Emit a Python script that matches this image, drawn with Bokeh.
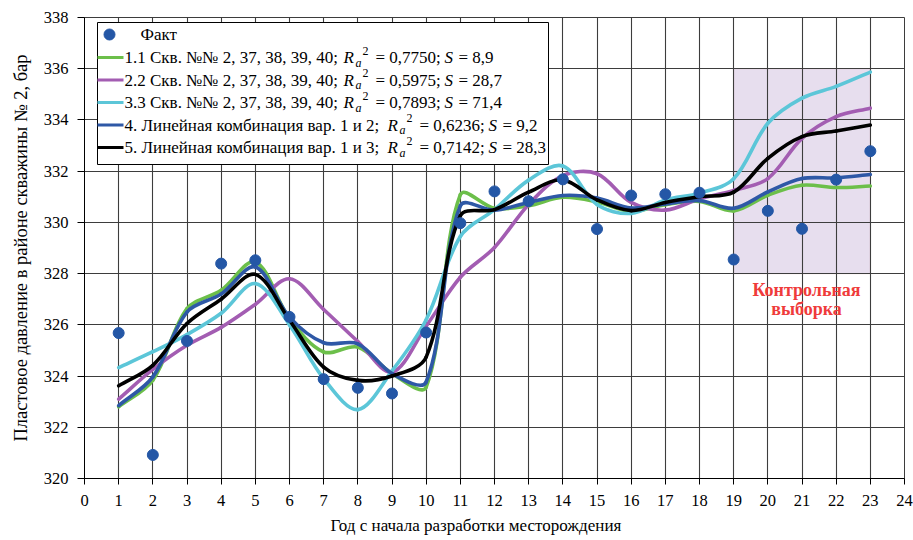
import numpy as np
from bokeh.plotting import figure
from bokeh.models import FixedTicker, Label, BoxAnnotation, ColumnDataSource, Title
from bokeh.embed import file_html
from bokeh.resources import INLINE

# ---- data -------------------------------------------------------------
years = list(range(1, 24))

fact = [325.68, 320.92, 325.37, 328.39, 328.52, 326.31, 323.88, 323.54, 323.32, 325.70,
        329.97, 331.21, 330.83, 331.68, 329.74, 331.05, 331.10, 331.16, 328.55, 330.45,
        329.75, 331.67, 332.78]

var_1 = [322.80, 323.84, 326.63, 327.35, 328.46, 326.24, 324.94, 325.13, 324.10, 323.57,
         331.08, 330.55, 330.65, 330.98, 330.80, 330.43, 330.69, 330.82, 330.45, 331.06,
         331.45, 331.36, 331.42]

var_2 = [323.10, 324.26, 325.20, 325.90, 326.80, 327.80, 326.60, 325.35, 324.15, 325.95,
         327.86, 329.02, 330.70, 331.83, 331.90, 330.78, 330.48, 330.92, 331.25, 331.71,
         333.28, 334.13, 334.46]

var_3 = [324.33, 324.95, 325.62, 326.45, 327.61, 326.00, 323.90, 322.69, 324.20, 326.20,
         329.45, 330.50, 331.65, 332.20, 330.70, 330.35, 330.88, 331.14, 331.70, 333.87,
         334.85, 335.31, 335.87]

var_4 = [322.85, 323.97, 326.50, 327.20, 328.26, 326.30, 325.30, 325.26, 324.10, 323.77,
         330.65, 330.48, 330.78, 331.05, 330.95, 330.56, 330.72, 330.85, 330.55, 331.19,
         331.71, 331.74, 331.87]

var_5 = [323.62, 324.42, 326.05, 327.00, 327.97, 326.18, 324.35, 323.83, 324.00, 324.74,
         330.26, 330.50, 331.18, 331.66, 330.88, 330.46, 330.78, 331.00, 331.18, 332.50,
         333.35, 333.57, 333.80]

legend_prefix = ["1.1 Скв. №№ 2, 37, 38, 39, 40;",
                 "2.2 Скв. №№ 2, 37, 38, 39, 40;",
                 "3.3 Скв. №№ 2, 37, 38, 39, 40;",
                 "4. Линейная комбинация вар. 1 и 2;",
                 "5. Линейная комбинация вар. 1 и 3;"]
r2_values = ["0,7750", "0,5975", "0,7893", "0,6236", "0,7142"]
s_values = ["8,9", "28,7", "71,4", "9,2", "28,3"]

control_years = (19, 23)
control_range = (328, 336)

x_ticks = list(range(0, 25))
y_ticks = list(range(320, 339, 2))

# ---- style --------------------------------------------------------------
FONT = "'Liberation Serif', 'Times New Roman', 'DejaVu Serif', serif"
line_colors = ["#6cbf4a", "#a35db2", "#5cc6d8", "#2e58a6", "#000000"]
dot_color = "#2457a6"
grid_color = "#3d3d3d"

W, H = 913, 540
L, R, T, B = 84, 904, 17, 478   # frame edges in px
X0, X1, Y0, Y1 = 0, 24, 320, 338


def px_x(px):
    return X0 + (px - L) * (X1 - X0) / (R - L)


def px_y(py):
    return Y1 - (py - T) * (Y1 - Y0) / (B - T)


SX = (R - L) / (X1 - X0)
SY = (B - T) / (Y1 - Y0)


def smooth_segments(xs, ys):
    """Cubic Bezier segments through the points (chord-weighted Catmull-Rom)."""
    x = np.asarray(xs, float)
    y = np.asarray(ys, float)
    n = len(x)
    d = np.hypot(np.diff(x) * SX, np.diff(y) * SY)
    ox, oy, ix, iy = (np.empty(n) for _ in range(4))
    for i in range(n):
        xa, ya = (x[i - 1], y[i - 1]) if i > 0 else (x[i], y[i])
        xb, yb = (x[i + 1], y[i + 1]) if i < n - 1 else (x[i], y[i])
        da = d[i - 1] if i > 0 else 0.0
        db = d[i] if i < n - 1 else 0.0
        tot = da + db
        tx, ty = xb - xa, yb - ya
        ox[i] = x[i] + tx * db / tot / 3
        oy[i] = y[i] + ty * db / tot / 3
        ix[i] = x[i] - tx * da / tot / 3
        iy[i] = y[i] - ty * da / tot / 3
    return dict(x0=x[:-1], y0=y[:-1], x1=x[1:], y1=y[1:],
                cx0=ox[:-1], cy0=oy[:-1], cx1=ix[1:], cy1=iy[1:])


p = figure(width=W, height=H, x_range=(X0, X1), y_range=(Y0, Y1),
           output_backend="svg", toolbar_location=None,
           min_border_left=L, min_border_right=W - R,
           min_border_top=T, min_border_bottom=H - B)
p.background_fill_color = "white"
p.border_fill_color = "white"
p.outline_line_color = grid_color

# control sample shading, below the grid
shade = BoxAnnotation(left=control_years[0], right=control_years[1],
                      bottom=control_range[0], top=control_range[1],
                      fill_color="#e7deee", fill_alpha=1.0,
                      line_color="#e9a6a6", line_width=1.2, level="image")
p.add_layout(shade)

# grid
p.xgrid.ticker = FixedTicker(ticks=x_ticks)
p.ygrid.ticker = FixedTicker(ticks=y_ticks)
for g in (p.xgrid, p.ygrid):
    g.grid_line_color = grid_color
    g.grid_line_width = 1.1
    g.grid_line_alpha = 1.0

# axes
p.xaxis.ticker = FixedTicker(ticks=x_ticks)
p.yaxis.ticker = FixedTicker(ticks=y_ticks)
for ax in (p.xaxis, p.yaxis):
    ax.axis_line_color = "black"
    ax.major_tick_line_color = "black"
    ax.major_tick_in = 0
    ax.minor_tick_out = 0
    ax.minor_tick_in = 0
    ax.major_label_text_font = FONT
    ax.major_label_text_font_size = "16.5px"
    ax.major_label_text_color = "black"
    ax.axis_label_text_font = FONT
    ax.axis_label_text_font_style = "normal"
    ax.axis_label_text_color = "black"
p.xaxis.major_tick_out = 6
p.yaxis.major_tick_out = 7
p.xaxis.major_label_standoff = 10
p.yaxis.major_label_standoff = 9
p.yaxis.axis_label = "Пластовое давление в районе скважины № 2, бар"
p.yaxis.axis_label_text_font_size = "18.5px"
p.yaxis.axis_label_standoff = 10

# x axis title, offset from the frame's left edge
p.add_layout(Title(text="Год с начала разработки месторождения", align="left",
                   offset=246, text_font=FONT, text_font_size="17px",
                   text_font_style="normal", text_color="black"), "below")

# model curves
for series, color in zip([var_1, var_2, var_3, var_4, var_5], line_colors):
    src = ColumnDataSource(smooth_segments(years, series))
    p.bezier(x0="x0", y0="y0", x1="x1", y1="y1", cx0="cx0", cy0="cy0",
             cx1="cx1", cy1="cy1", source=src, line_color=color,
             line_width=3.6, line_cap="round")

# observed values
p.scatter(years, fact, size=11, fill_color=dot_color, line_color=dot_color)

# ---- legend --------------------------------------------------------------
leg_left, leg_right, leg_top, leg_bottom = 97, 548, 22, 164
p.quad(left=[px_x(leg_left)], right=[px_x(leg_right)],
       top=[px_y(leg_top)], bottom=[px_y(leg_bottom)],
       fill_color="white", line_color="black", line_width=1)

fact_row = 34
rows = [57, 79.5, 102, 124.5, 147]
p.scatter([px_x(109)], [px_y(fact_row)], size=11,
          fill_color=dot_color, line_color=dot_color)
p.segment(x0=[px_x(leg_left)] * 5, x1=[px_x(123)] * 5,
          y0=[px_y(r) for r in rows], y1=[px_y(r) for r in rows],
          line_color=line_colors, line_width=3)

LEG_SIZE = "17px"
SUB_SIZE = "12px"


def put(text, px, py, size=LEG_SIZE, style="normal", color="black",
        baseline="middle", align="left"):
    p.add_layout(Label(x=px_x(px), y=px_y(py), text=text,
                       text_font=FONT, text_font_size=size,
                       text_font_style=style, text_color=color,
                       text_baseline=baseline, text_align=align))


put("Факт", 140, fact_row)
r_pos = [343, 343, 343, 387, 387]
for i, py in enumerate(rows):
    rx = r_pos[i]
    put(legend_prefix[i], 124, py)
    put("R", rx, py, style="italic")
    put("a", rx + 12, py + 5, size=SUB_SIZE, style="italic")
    put("2", rx + 19, py - 7, size=SUB_SIZE)
    put("= " + r2_values[i] + ";", rx + 32, py)
    put("S", rx + 101, py, style="italic")
    put("= " + s_values[i], rx + 115, py)

# control sample caption
put("Контрольная", 806, 289, size="18px", style="bold", color="#ef3b3b", align="center")
put("выборка", 806, 308, size="18px", style="bold", color="#ef3b3b", align="center")

open("out.html", "w").write(file_html(p, INLINE))
